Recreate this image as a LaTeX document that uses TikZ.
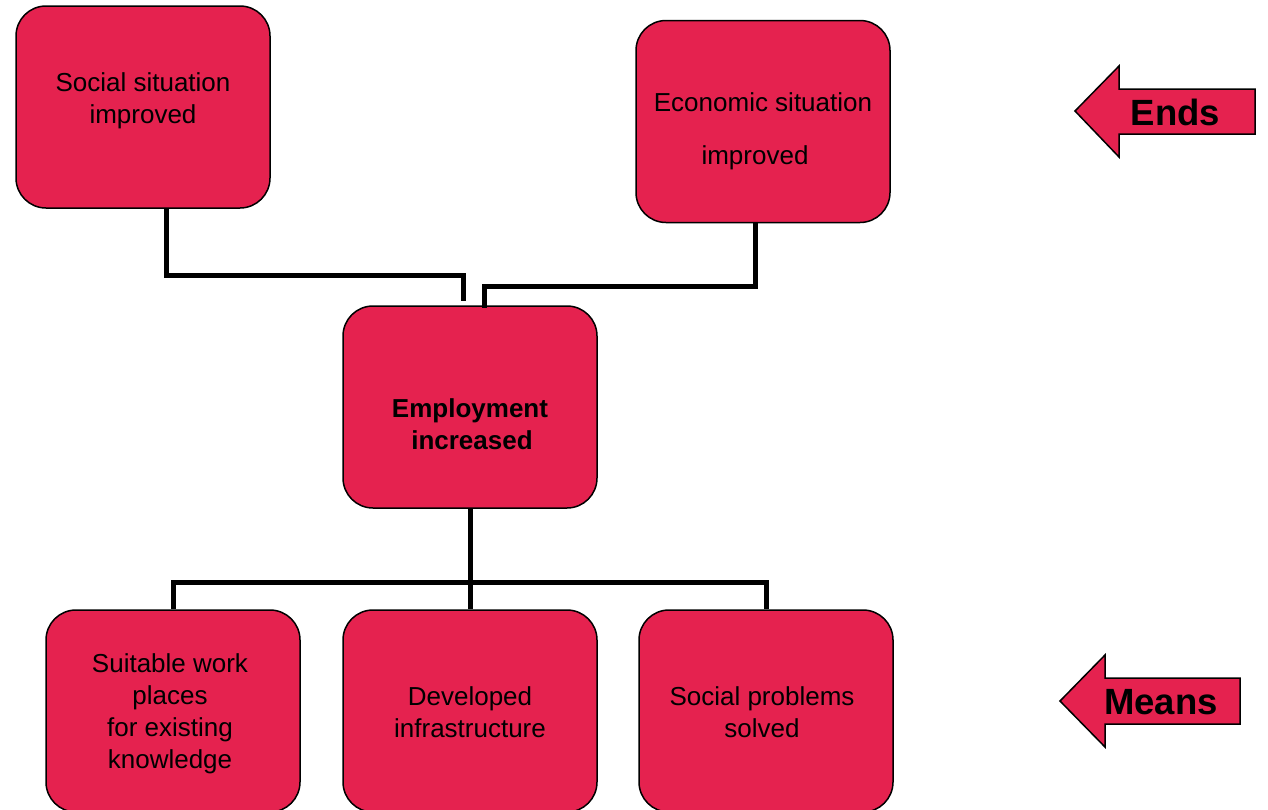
\documentclass[tikz,border=0pt]{standalone}
\usepackage{fontspec}
\setmainfont{Liberation Sans}
\definecolor{boxred}{HTML}{E5224F}
\begin{document}
\begin{tikzpicture}[x=1pt,y=-1pt,
  box/.style={draw=black,line width=1.5pt,fill=boxred,rounded corners=30pt,
    minimum width=254pt,minimum height=202pt,inner sep=0pt},
  txt/.style={align=center,font=\fontsize{26}{32}\selectfont,inner sep=0pt},
  conn/.style={line width=5pt,line join=miter},
  arrowshape/.style={draw=black,line width=1.5pt,fill=boxred,line join=miter},
  arrtxt/.style={font=\fontsize{36.5}{40}\selectfont\bfseries,inner sep=0pt}]
\useasboundingbox (0,0) rectangle (1268,809);
% boxes
\node[box] (s1) at (143,107) {};
\node[box] (e1) at (763,121.5) {};
\node[box] (emp) at (470,407) {};
\node[box] (b1) at (173,711) {};
\node[box] (b2) at (470,711) {};
\node[box] (b3) at (766,711) {};
% texts
\node[txt] (s1t) at (143,101) {Social situation\\improved};
\node[txt] (e1t) at (763,131) {Economic situation\\[21pt]improved\hspace*{16pt}};
\node[txt,font=\fontsize{26}{32}\selectfont\bfseries] (empt) at (470,424) {Employment\\\hspace*{4pt}increased};
\node[txt] (b1t) at (170,714) {Suitable work\\places\\for existing\\knowledge};
\node[txt] (b2t) at (470,712) {Developed\\infrastructure};
\node[txt] (b3t) at (762,712) {Social problems\\solved};
% connectors
\draw[conn] ([xshift=23pt]s1.south) |- (463,275) -- ([xshift=-7pt,yshift=4pt]emp.north);
\draw[conn] ([xshift=-8pt]e1.south) |- (484,286) -- ([xshift=14pt,yshift=-3pt]emp.north);
\draw[conn] (emp.south) -- (b2.north);
\draw[conn] (b1.north) -- (b1.north |- 0,582) -- (b3.north |- 0,582) -- (b3.north);
% side arrows
\draw[arrowshape] (1255,89) -- (1119,89) -- (1119,66) -- (1075,111) -- (1119,157) -- (1119,134) -- (1255,134) -- cycle;
\node[arrtxt] (ends) at (1175.5,112) {Ends};
\draw[arrowshape] (1240,678) -- (1105,678) -- (1105,655) -- (1060,701) -- (1105,747) -- (1105,724) -- (1240,724) -- cycle;
\node[arrtxt] (means) at (1161,702) {Means};
\end{tikzpicture}
\end{document}
